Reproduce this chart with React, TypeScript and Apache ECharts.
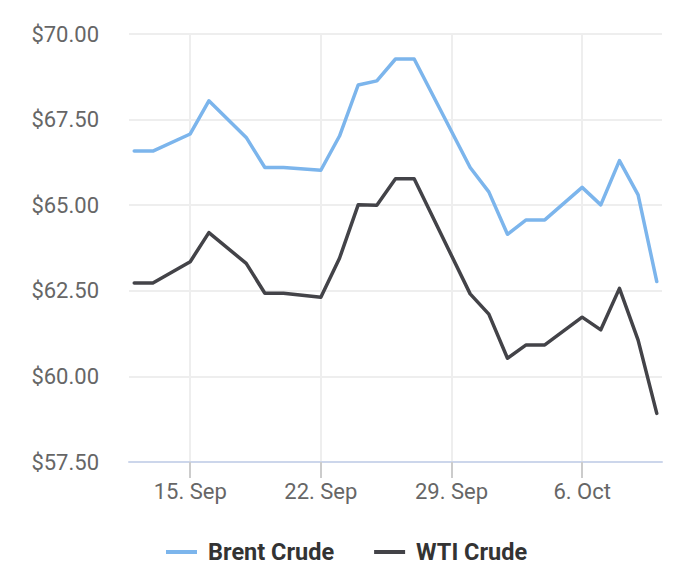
import { useEffect, useRef } from "react";
import * as echarts from "echarts";

// trading days shown on the chart
const dates = [
  "2019-09-12", "2019-09-13", "2019-09-15", "2019-09-16", "2019-09-18",
  "2019-09-19", "2019-09-20", "2019-09-22", "2019-09-23", "2019-09-24",
  "2019-09-25", "2019-09-26", "2019-09-27", "2019-09-30", "2019-10-01",
  "2019-10-02", "2019-10-03", "2019-10-04", "2019-10-06", "2019-10-07",
  "2019-10-08", "2019-10-09", "2019-10-10",
];

const brent = [
  66.58, 66.58, 67.08, 68.05, 66.98,
  66.1, 66.1, 66.02, 67.02, 68.51,
  68.63, 69.27, 69.27, 66.1, 65.39,
  64.15, 64.57, 64.57, 65.52, 65.01,
  66.3, 65.3, 62.77,
];

const wti = [
  62.73, 62.73, 63.35, 64.2, 63.3,
  62.43, 62.43, 62.31, 63.45, 65.01,
  65.0, 65.77, 65.77, 62.41, 61.82,
  60.53, 60.92, 60.92, 61.73, 61.36,
  62.57, 61.06, 58.92,
];

const tickDates = ["2019-09-15", "2019-09-22", "2019-09-29", "2019-10-06"];
const tickLabels = ["15. Sep", "22. Sep", "29. Sep", "6. Oct"];

const toTime = (d: string): number => {
  const [y, m, day] = d.split("-").map(Number);
  return Date.UTC(y, m - 1, day);
};

function App() {
  const chartRef = useRef<HTMLDivElement>(null);

  useEffect(() => {
    if (!chartRef.current) return;
    const chart = echarts.init(chartRef.current, null, { renderer: "svg" });

    const times = dates.map(toTime);
    const ticks = tickDates.map(toTime);
    const font = "Roboto, 'Noto Sans', sans-serif";
    // highcharts-like 1% padding around the data range
    const pad = (times[times.length - 1] - times[0]) * 0.01;

    chart.setOption({
      animation: false,
      grid: {
        left: 129,
        right: 38,
        top: 34,
        bottom: 114,
        containLabel: false,
        outerBoundsMode: "none",
      },
      legend: {
        left: 166,
        top: 540,
        padding: 0,
        icon: "rect",
        itemWidth: 31,
        itemHeight: 4,
        itemGap: 40,
        textStyle: {
          fontFamily: font,
          fontSize: 23.5,
          fontWeight: "bold",
          color: "#333333",
          padding: [0, 0, 0, 6],
        },
        data: ["Brent Crude", "WTI Crude"],
      },
      xAxis: {
        type: "value",
        min: times[0] - pad,
        max: times[times.length - 1] + pad,
        axisLine: { show: true, lineStyle: { color: "#ccd6eb", width: 2 } },
        axisTick: {
          show: true,
          length: 16,
          customValues: ticks,
          lineStyle: { color: "#cccccc", width: 2 },
        },
        axisLabel: {
          customValues: ticks,
          margin: 18,
          fontFamily: font,
          fontSize: 22,
          color: "#666666",
          formatter: (value: number) => {
            const i = ticks.indexOf(value);
            return i >= 0 ? tickLabels[i] : "";
          },
        },
        splitLine: { show: true, lineStyle: { color: "#eeeeee", width: 2 } },
      },
      yAxis: {
        type: "value",
        min: 57.5,
        max: 70,
        interval: 2.5,
        axisLine: { show: false },
        axisTick: { show: false },
        axisLabel: {
          margin: 30,
          fontFamily: font,
          fontSize: 22,
          color: "#666666",
          formatter: (v: number) => "$" + v.toFixed(2),
        },
        splitLine: { show: true, lineStyle: { color: "#eeeeee", width: 2 } },
      },
      series: [
        {
          name: "Brent Crude",
          type: "line",
          data: times.map((t, i) => [t, brent[i]]),
          showSymbol: false,
          color: "#7cb5ec",
          lineStyle: { width: 3.5, color: "#7cb5ec", cap: "round", join: "round" },
        },
        {
          name: "WTI Crude",
          type: "line",
          data: times.map((t, i) => [t, wti[i]]),
          showSymbol: false,
          color: "#434348",
          lineStyle: { width: 3.5, color: "#434348", cap: "round", join: "round" },
        },
      ],
    });

    return () => {
      chart.dispose();
    };
  }, []);

  return (
    <div
      ref={chartRef}
      style={{ position: "absolute", left: 0, top: 0, width: "700px", height: "576px" }}
    />
  );
}

export default App;
